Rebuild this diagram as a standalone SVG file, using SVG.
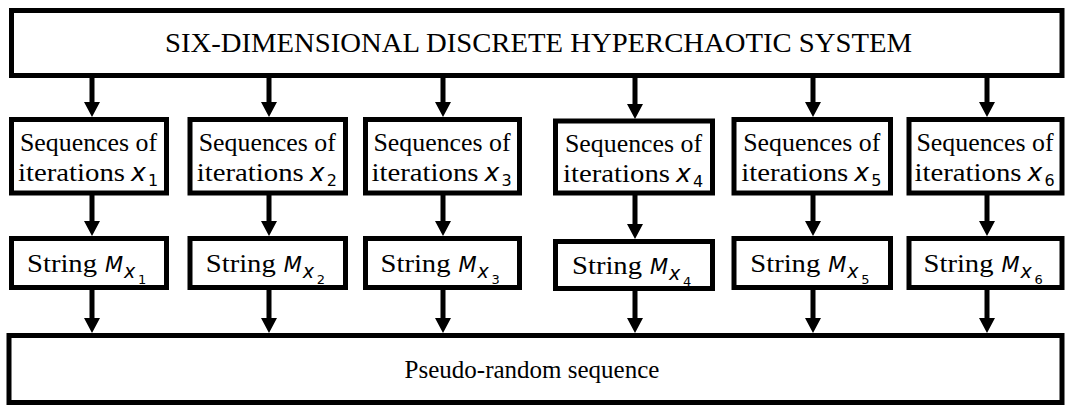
<svg xmlns="http://www.w3.org/2000/svg" width="1065" height="407" viewBox="0 0 1065 407">
<style>
.box{fill:#fff;stroke:#000;stroke-width:5}
.sh{stroke:#000;stroke-width:5;fill:none}
.hd{fill:#000}
.t{font-family:"Liberation Serif","Times New Roman",serif;font-size:25px;fill:#000}
.big{font-family:"Liberation Serif","Times New Roman",serif;font-size:27px;fill:#000}
.mi{font-family:"DejaVu Sans","Noto Sans",sans-serif;font-style:italic;fill:#000}
.mn{font-family:"DejaVu Sans","Noto Sans",sans-serif;fill:#000}
.x1{font-size:25px}
.d1{font-size:16px}
.m2{font-size:21px}
.x2{font-size:19px}
.d2{font-size:13px}
</style>
<rect width="1065" height="407" fill="#fff"/>
<g id="top">
<rect class="box" x="11.5" y="10.5" width="1050.5" height="65"/>
<text class="big" x="165" y="52" textLength="747" lengthAdjust="spacingAndGlyphs">SIX-DIMENSIONAL DISCRETE HYPERCHAOTIC SYSTEM</text>
</g>
<g id="seq1"><rect class="box" x="11.5" y="119.5" width="155" height="73.5"/>
<text class="t" x="20" y="151" textLength="137" lengthAdjust="spacingAndGlyphs">Sequences of</text>
<text class="t" x="18" y="181" textLength="107" lengthAdjust="spacingAndGlyphs">iterations</text>
<text class="mi x1" x="131" y="181">x</text><text class="mn d1" x="148" y="186">1</text></g>
<g id="seq2"><rect class="box" x="190" y="119.5" width="155.5" height="73.5"/>
<text class="t" x="198.75" y="151" textLength="137" lengthAdjust="spacingAndGlyphs">Sequences of</text>
<text class="t" x="196.75" y="181" textLength="107" lengthAdjust="spacingAndGlyphs">iterations</text>
<text class="mi x1" x="309.75" y="181">x</text><text class="mn d1" x="326.75" y="186">2</text></g>
<g id="seq3"><rect class="box" x="365.5" y="119.5" width="154" height="73.5"/>
<text class="t" x="373.5" y="151" textLength="137" lengthAdjust="spacingAndGlyphs">Sequences of</text>
<text class="t" x="371.5" y="181" textLength="107" lengthAdjust="spacingAndGlyphs">iterations</text>
<text class="mi x1" x="484.5" y="181">x</text><text class="mn d1" x="501.5" y="186">3</text></g>
<g id="seq4"><rect class="box" x="555.5" y="121" width="157" height="72"/>
<text class="t" x="565" y="152" textLength="137" lengthAdjust="spacingAndGlyphs">Sequences of</text>
<text class="t" x="563" y="182" textLength="107" lengthAdjust="spacingAndGlyphs">iterations</text>
<text class="mi x1" x="676" y="182">x</text><text class="mn d1" x="693" y="187">4</text></g>
<g id="seq5"><rect class="box" x="734" y="119.5" width="156.5" height="73.5"/>
<text class="t" x="743.25" y="151" textLength="137" lengthAdjust="spacingAndGlyphs">Sequences of</text>
<text class="t" x="741.25" y="181" textLength="107" lengthAdjust="spacingAndGlyphs">iterations</text>
<text class="mi x1" x="854.25" y="181">x</text><text class="mn d1" x="871.25" y="186">5</text></g>
<g id="seq6"><rect class="box" x="909" y="119.5" width="153" height="73.5"/>
<text class="t" x="916.5" y="151" textLength="137" lengthAdjust="spacingAndGlyphs">Sequences of</text>
<text class="t" x="914.5" y="181" textLength="107" lengthAdjust="spacingAndGlyphs">iterations</text>
<text class="mi x1" x="1027.5" y="181">x</text><text class="mn d1" x="1044.5" y="186">6</text></g>
<g id="str1"><rect class="box" x="11.5" y="238.5" width="155" height="49"/>
<text class="t" x="27" y="272" textLength="70" lengthAdjust="spacingAndGlyphs">String</text>
<text class="mi m2" x="105" y="272">M</text><text class="mi x2" x="124" y="278">x</text><text class="mn d2" x="138" y="284">1</text></g>
<g id="str2"><rect class="box" x="190" y="238.5" width="155.5" height="49"/>
<text class="t" x="205.75" y="272" textLength="70" lengthAdjust="spacingAndGlyphs">String</text>
<text class="mi m2" x="283.75" y="272">M</text><text class="mi x2" x="302.75" y="278">x</text><text class="mn d2" x="316.75" y="284">2</text></g>
<g id="str3"><rect class="box" x="365.5" y="238.5" width="154" height="49"/>
<text class="t" x="380.5" y="272" textLength="70" lengthAdjust="spacingAndGlyphs">String</text>
<text class="mi m2" x="458.5" y="272">M</text><text class="mi x2" x="477.5" y="278">x</text><text class="mn d2" x="491.5" y="284">3</text></g>
<g id="str4"><rect class="box" x="555.5" y="241.5" width="157" height="47"/>
<text class="t" x="572" y="274" textLength="70" lengthAdjust="spacingAndGlyphs">String</text>
<text class="mi m2" x="650" y="274">M</text><text class="mi x2" x="669" y="280">x</text><text class="mn d2" x="683" y="286">4</text></g>
<g id="str5"><rect class="box" x="734" y="238.5" width="156.5" height="49"/>
<text class="t" x="750.25" y="272" textLength="70" lengthAdjust="spacingAndGlyphs">String</text>
<text class="mi m2" x="828.25" y="272">M</text><text class="mi x2" x="847.25" y="278">x</text><text class="mn d2" x="861.25" y="284">5</text></g>
<g id="str6"><rect class="box" x="909" y="238.5" width="153" height="49"/>
<text class="t" x="923.5" y="272" textLength="70" lengthAdjust="spacingAndGlyphs">String</text>
<text class="mi m2" x="1001.5" y="272">M</text><text class="mi x2" x="1020.5" y="278">x</text><text class="mn d2" x="1034.5" y="284">6</text></g>
<g id="bottom">
<rect class="box" x="9" y="335.5" width="1053" height="67"/>
<text class="t" x="532" y="378" font-size="21" text-anchor="middle">Pseudo-random sequence</text>
</g>
<g id="connectors">
<path class="sh" d="M92 78V103M269 78V103M443 78V103M635 78V105M813 78V103M987 78V103"/>
<path class="hd" d="M84 102H100L92 117ZM261 102H277L269 117ZM435 102H451L443 117ZM627 104H643L635 119ZM805 102H821L813 117ZM979 102H995L987 117Z"/>
<path class="sh" d="M92 195V222M269 195V222M443 195V222M635 195V225M813 195V222M987 195V222"/>
<path class="hd" d="M84 221H100L92 236ZM261 221H277L269 236ZM435 221H451L443 236ZM627 224H643L635 239ZM805 221H821L813 236ZM979 221H995L987 236Z"/>
<path class="sh" d="M92 289V319M269 289V319M443 289V319M635 290V319M813 289V319M987 289V319"/>
<path class="hd" d="M84 318H100L92 333ZM261 318H277L269 333ZM435 318H451L443 333ZM627 318H643L635 333ZM805 318H821L813 333ZM979 318H995L987 333Z"/>
</g>
</svg>
